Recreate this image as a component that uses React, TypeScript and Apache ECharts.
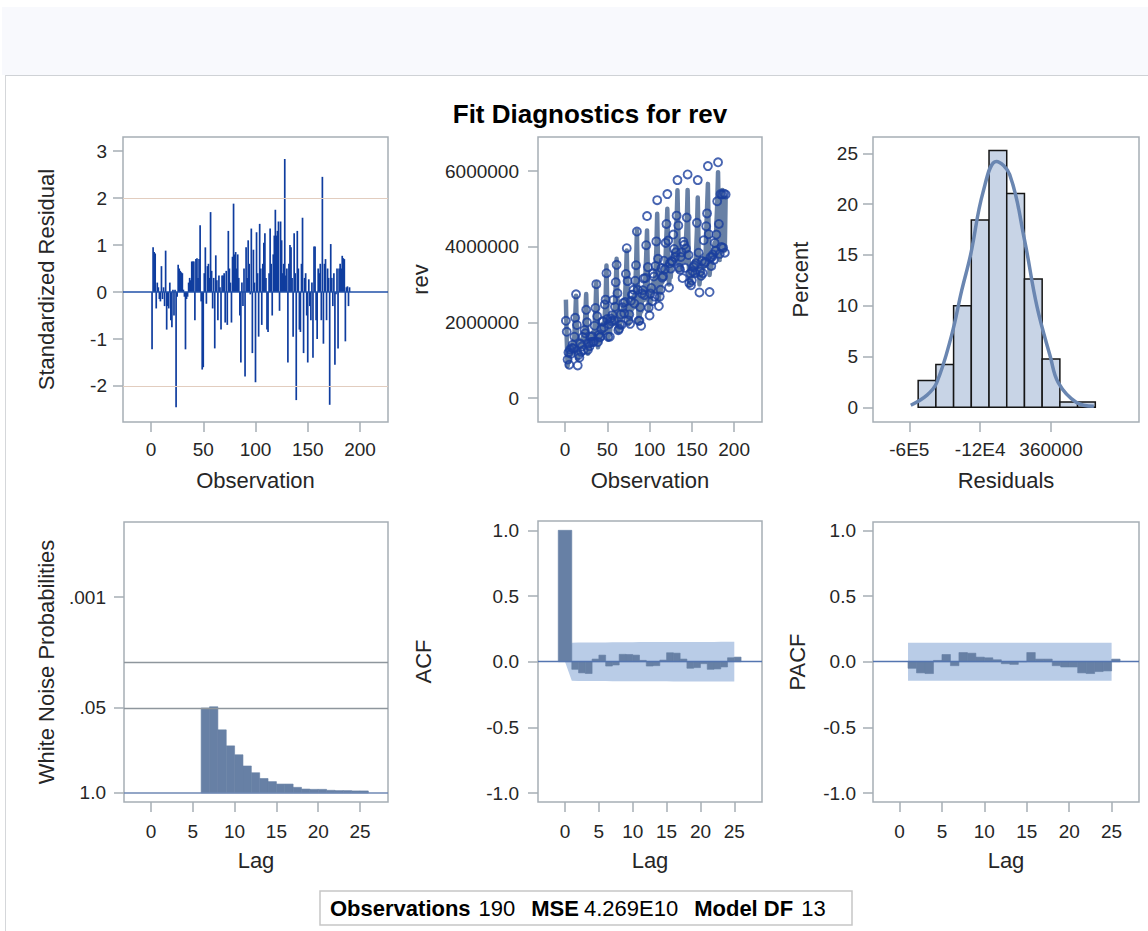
import React, { useEffect, useRef } from "react";
import * as echarts from "echarts";

// ---------------- data ----------------
const observation: number[] = Array.from({ length: 190 }, (_, i) => i + 1);

const stdResidual: number[] = [
  -1.22, 0.95, 0.85, 0.82, -0.35, 0.2, 0.1, -0.15, -0.2, 0.55,
  -0.15, 0.1, -0.3, 0.88, -0.8, -0.3, -0.35, 0.2, -0.6, -0.75,
  0.05, -0.5, 0.05, -2.45, -0.1, 0.58, 0.5, 0.45, 0.42, 0.4,
  0.05, -0.1, -1.22, -0.15, -0.1, 0.2, 0.3, 0.25, 0.65, 0.65,
  0.65, -0.6, 0.7, 0.72, 0.3, 0.7, 1.42, -0.2, -1.65, -1.6,
  0.4, 0.95, -0.25, 0.55, 0.6, 0.3, 1.7, 0.45, -0.35, 0.3,
  -1.2, 0.78, 0.25, -0.6, 0.35, 0.1, -0.8, 0.35, 0.35, 0.4,
  -0.65, 0.45, -0.7, 1.3, 0.5, 0.2, -0.65, 0.75, 1.88, 0.8,
  0.85, 0.5, 0.8, 0.3, -0.5, -1.5, 0.2, -0.3, 0.5, -1.8,
  0.95, 0.3, 1.1, 0.6, -0.05, 1.35, -1.3, 0.9, 0.2, -1.92,
  1.27, 0.4, -0.95, 1.45, 0.5, -0.7, 0.6, 1.05, 1.25, 0.3,
  -0.8, -0.85, 0.4, 1.35, 0.6, -0.5, 0.8, 1.2, 1.75, 1.2,
  1.3, 1.5, -0.4, 1.5, 1.1, 0.4, 0.6, 2.83, 0.35, 0.5,
  -1.5, 0.6, 1.0, 0.95, 0.3, -0.95, 1.25, 0.4, -2.3, 1.3,
  0.5, -0.8, -0.85, 0.6, 1.58, -1.3, 0.3, 0.4, -0.5, -1.5,
  0.27, -0.3, -0.6, 0.2, -1.4, 0.97, 0.97, -0.6, -1.0, 0.5,
  0.4, 0.6, -0.6, 2.45, -1.1, 0.6, 0.7, -0.6, 0.5, 0.3,
  -2.4, 1.02, 0.3, -0.3, 0.4, -1.55, -0.05, 0.5, -1.2, 0.5,
  0.6, 0.5, 0.77, 0.72, 0.7, -1.05, 0.1, 0.12, -0.3, 0.1,
];

// rev, in thousands
const revThousands: number[] = [
  2040, 1750, 1020, 1200, 880, 1280, 1170, 1320, 1410, 1310, 1620, 2120,
  2740, 1930, 860, 1140, 1070, 1440, 1220, 1360, 1610, 1270, 1800, 1710,
  2330, 2000, 1270, 1440, 1370, 1620, 1480, 1630, 1490, 1480, 1910, 2380,
  3010, 2160, 1480, 1670, 1600, 1620, 1820, 2020, 2030, 1870, 2470, 2600,
  3300, 2090, 1620, 1950, 1620, 2100, 2030, 2190, 2590, 2050, 2410, 3060,
  3520, 2770, 1790, 1830, 1940, 2210, 1940, 2400, 2510, 2240, 2540, 3280,
  3960, 3090, 2050, 2210, 1960, 2570, 2730, 2730, 2860, 2500, 3100, 3510,
  4400, 2860, 2040, 2040, 2400, 1910, 2760, 2850, 3160, 2720, 3170, 4040,
  4810, 3460, 2390, 2180, 2760, 2910, 2560, 3290, 3210, 2680, 3490, 4140,
  5230, 3680, 2430, 2680, 2860, 3430, 3180, 3220, 3630, 3400, 4100, 4600,
  5390, 4160, 2920, 3560, 3420, 3620, 3600, 4320, 3940, 3720, 3850, 4820,
  5760, 4560, 3440, 3390, 3730, 3850, 3170, 4130, 4050, 3440, 3950, 4770,
  5910, 3780, 3040, 3290, 2980, 3110, 3350, 3460, 3510, 3300, 3560, 4630,
  5760, 3840, 2790, 3340, 3230, 3620, 3300, 4170, 3560, 3600, 4540, 4880,
  6130, 4330, 2800, 3720, 3490, 3730, 3790, 3650, 4100, 3890, 4320, 5200,
  6230, 4600, 3810, 5390, 3990, 5380, 3970, 5400, 3840, 5380,
];

// predicted rev, in thousands
const predictedThousands: number[] = [
  2600, 1550, 840, 1030, 950, 1240, 1150, 1350, 1450, 1200, 1650, 2100,
  2700, 1750, 1030, 1200, 1140, 1400, 1340, 1510, 1600, 1370, 1790, 2220,
  2750, 1880, 1170, 1350, 1280, 1540, 1470, 1650, 1740, 1510, 1930, 2340,
  3050, 2110, 1340, 1530, 1460, 1740, 1670, 1870, 1970, 1720, 2180, 2640,
  3500, 2420, 1540, 1750, 1670, 1990, 1910, 2130, 2240, 1960, 2480, 3000,
  3680, 2610, 1740, 1950, 1870, 2190, 2110, 2330, 2440, 2160, 2670, 3190,
  3900, 2820, 1950, 2170, 2090, 2410, 2340, 2560, 2680, 2400, 2930, 3450,
  4430, 3170, 2000, 2100, 2300, 2280, 2560, 2790, 2930, 2600, 3180, 3760,
  4430, 3270, 2350, 2580, 2500, 2830, 2760, 2990, 3110, 2820, 3370, 3920,
  4870, 3620, 2600, 2860, 2780, 3150, 3060, 3320, 3460, 3150, 3740, 4350,
  5000, 3850, 3000, 3250, 3190, 3540, 3480, 3730, 3870, 3620, 4160, 4700,
  5490, 4360, 3380, 3590, 3470, 3770, 3650, 3860, 3950, 3610, 4130, 4650,
  5500, 4050, 2980, 3210, 3080, 3420, 3290, 3520, 3630, 3260, 3850, 4430,
  5300, 3960, 3000, 3240, 3150, 3500, 3420, 3660, 3790, 3480, 4400, 5000,
  5660, 4270, 3250, 3510, 3430, 3790, 3710, 3970, 4110, 3790, 4570, 5100,
  5970, 4500, 3650, 5250, 3850, 5500, 3950, 5280, 3900, 5350,
];

const histMidpoint: number[] = [-480000, -360000, -240000, -120000, 0, 120000, 240000, 360000, 480000, 600000];
const histPercent: number[] = [2.63, 4.21, 10.0, 18.42, 25.26, 21.05, 12.63, 4.74, 0.53, 0.53];

const normalResidual: number[] = [-590000, -480000, -415000, -315000, -245000, -185000, -100000, -10000, 80000, 180000, 265000, 355000, 410000, 530000, 650000];
const normalPercent: number[] = [0.2, 1.2, 2.4, 7.0, 11.5, 15.0, 21.2, 24.2, 22.9, 16.5, 9.9, 5.0, 2.4, 0.5, 0.1];

const wnLag: number[] = [6, 7, 8, 9, 10, 11, 12, 13, 14, 15, 16, 17, 18, 19, 20, 21, 22, 23, 24, 25];
const wnProbability: number[] = [0.05, 0.048, 0.108, 0.19, 0.26, 0.386, 0.49, 0.6, 0.67, 0.73, 0.73, 0.82, 0.87, 0.88, 0.88, 0.91, 0.92, 0.92, 0.93, 0.93];

const acfLag: number[] = Array.from({ length: 26 }, (_, i) => i);
const acfValue: number[] = [1.0, -0.058, -0.085, -0.09, 0.02, 0.05, -0.033, -0.025, 0.056, 0.055, 0.05, 0.01, -0.033, -0.03, 0.012, 0.068, 0.065, 0.02, -0.05, -0.045, -0.015, -0.058, -0.055, -0.04, 0.03, 0.035];
const acfBandLimit: number[] = [0, 0.145, 0.146, 0.146, 0.147, 0.147, 0.147, 0.148, 0.148, 0.148, 0.148, 0.149, 0.149, 0.149, 0.149, 0.149, 0.15, 0.15, 0.15, 0.15, 0.15, 0.15, 0.15, 0.151, 0.151, 0.151];

const pacfLag: number[] = Array.from({ length: 25 }, (_, i) => i + 1);
const pacfValue: number[] = [-0.05, -0.085, -0.09, 0.01, 0.055, -0.03, 0.07, 0.065, 0.035, 0.03, 0.015, -0.015, -0.02, 0.0, 0.07, 0.02, 0.02, -0.03, -0.04, -0.04, -0.085, -0.09, -0.075, -0.07, 0.02];
const pacfBandLimit: number[] = [0.145, 0.145, 0.145, 0.145, 0.145, 0.145, 0.145, 0.145, 0.145, 0.145, 0.145, 0.145, 0.145, 0.145, 0.145, 0.145, 0.145, 0.145, 0.145, 0.145, 0.145, 0.145, 0.145, 0.145, 0.145];

const obsTicks = [0, 50, 100, 150, 200];
const stdResTicks = [-2, -1, 0, 1, 2, 3];
const revTicks = [0, 2000000, 4000000, 6000000];
const residTicks = [-600000, -120000, 360000];
const residTickLabels = ["-6E5", "-12E4", "360000"];
const percentTicks = [0, 5, 10, 15, 20, 25];
const lagTicks = [0, 5, 10, 15, 20, 25];
const wnTicks = [0.001, 0.05, 1];
const wnTickLabels = [".001", ".05", "1.0"];
const corrTicks = [-1, -0.5, 0, 0.5, 1];

// ---------------- styling ----------------
const FONT = '"Liberation Sans", Arial, Helvetica, sans-serif';
const TXT = "#262626";
const FRAME = "#a6aeb5";
const BAR = "#6780a5";
const BAND = "#b9cce7";

type AxisCfg = {
  gridIndex: number;
  min: number;
  max: number;
  ticks: number[];
  name: string;
  nameGap: number;
  labelMargin: number;
  formatter?: (v: number) => string;
  type?: string;
  inverse?: boolean;
};

const axis = (o: AxisCfg) => ({
  type: o.type ?? "value",
  gridIndex: o.gridIndex,
  min: o.min,
  max: o.max,
  inverse: o.inverse ?? false,
  logBase: 10,
  name: o.name,
  nameLocation: "middle",
  nameGap: o.nameGap,
  nameTextStyle: { fontSize: 22, color: TXT, fontFamily: FONT },
  axisLine: { show: false, onZero: false },
  axisTick: { show: true, inside: false, length: 10, customValues: o.ticks, lineStyle: { color: FRAME, width: 1.5 } },
  axisLabel: {
    show: true,
    customValues: o.ticks,
    margin: o.labelMargin,
    fontSize: 19,
    color: TXT,
    fontFamily: FONT,
    hideOverlap: false,
    formatter: o.formatter ?? ((v: number) => String(v)),
  },
  splitLine: { show: false },
  splitArea: { show: false },
  minorTick: { show: false },
});

const rect = (a: number[], b: number[], style: any) => ({
  type: "rect",
  shape: {
    x: Math.min(a[0], b[0]),
    y: Math.min(a[1], b[1]),
    width: Math.abs(b[0] - a[0]),
    height: Math.abs(b[1] - a[1]),
  },
  style,
});

const hline = (value: number, color: string, width: number) => ({
  yAxis: value,
  lineStyle: { color, width, type: "solid" },
});

const markLines = (data: any[]) => ({
  silent: true,
  symbol: ["none", "none"],
  label: { show: false },
  animation: false,
  data,
});

function buildOption() {
  const grids = [
    { left: 123, top: 137, width: 265, height: 285 },
    { left: 538, top: 137, width: 224, height: 285 },
    { left: 873, top: 137, width: 266, height: 285 },
    { left: 124, top: 522, width: 264, height: 280 },
    { left: 538, top: 521, width: 224, height: 281 },
    { left: 873, top: 522, width: 266, height: 280 },
  ].map((g) => ({
    ...g,
    show: true,
    borderColor: FRAME,
    borderWidth: 1.5,
    backgroundColor: "rgba(0,0,0,0)",
    containLabel: false,
    outerBoundsMode: "none",
  }));

  const histBinWidth = histMidpoint[1] - histMidpoint[0];
  const corrFmt = (v: number) => v.toFixed(1);

  const xAxis = [
    axis({ gridIndex: 0, min: -26.8, max: 226.8, ticks: obsTicks, name: "Observation", nameGap: 47, labelMargin: 18 }),
    axis({ gridIndex: 1, min: -32, max: 233, ticks: obsTicks, name: "Observation", nameGap: 47, labelMargin: 18 }),
    axis({
      gridIndex: 2, min: -846000, max: 956000, ticks: residTicks, name: "Residuals", nameGap: 47, labelMargin: 18,
      formatter: (v: number) => residTickLabels[residTicks.indexOf(v)] ?? String(v),
    }),
    axis({ gridIndex: 3, min: -3.23, max: 28.35, ticks: lagTicks, name: "Lag", nameGap: 47, labelMargin: 20 }),
    axis({ gridIndex: 4, min: -3.99, max: 29.09, ticks: lagTicks, name: "Lag", nameGap: 47, labelMargin: 20 }),
    axis({ gridIndex: 5, min: -3.13, max: 28.23, ticks: lagTicks, name: "Lag", nameGap: 47, labelMargin: 20 }),
  ];

  const yAxis = [
    axis({ gridIndex: 0, min: -2.766, max: 3.298, ticks: stdResTicks, name: "Standardized Residual", nameGap: 66, labelMargin: 16 }),
    axis({ gridIndex: 1, min: -634000, max: 6899000, ticks: revTicks, name: "rev", nameGap: 107, labelMargin: 19 }),
    axis({ gridIndex: 2, min: -1.45, max: 26.6, ticks: percentTicks, name: "Percent", nameGap: 62, labelMargin: 15 }),
    axis({
      gridIndex: 3, type: "log", inverse: true, min: 0.0000711, max: 1.374, ticks: wnTicks,
      name: "White Noise Probabilities", nameGap: 67, labelMargin: 18,
      formatter: (v: number) => {
        const i = wnTicks.findIndex((t) => Math.abs(t - v) / t < 1e-6);
        return i >= 0 ? wnTickLabels[i] : String(v);
      },
    }),
    axis({ gridIndex: 4, min: -1.068, max: 1.071, ticks: corrTicks, name: "ACF", nameGap: 104, labelMargin: 19, formatter: corrFmt }),
    axis({ gridIndex: 5, min: -1.068, max: 1.064, ticks: corrTicks, name: "PACF", nameGap: 65, labelMargin: 17, formatter: corrFmt }),
  ];

  const series: any[] = [
    // Panel 1: standardized residual needles
    {
      type: "bar",
      xAxisIndex: 0,
      yAxisIndex: 0,
      data: observation.map((o, i) => [o, stdResidual[i]]),
      barWidth: 1.7,
      itemStyle: { color: "#0f3d9f" },
      markLine: markLines([
        hline(2, "#e2cdbf", 1.2),
        hline(-2, "#e2cdbf", 1.2),
        hline(0, "#2150a8", 1.6),
      ]),
    },
    // Panel 2: predicted band + observed rev
    {
      type: "line",
      xAxisIndex: 1,
      yAxisIndex: 1,
      data: observation.map((o, i) => [o, predictedThousands[i] * 1000]),
      showSymbol: false,
      lineStyle: { color: "#6880a5", width: 4.5, join: "round" },
      z: 2,
    },
    {
      type: "scatter",
      xAxisIndex: 1,
      yAxisIndex: 1,
      data: observation.map((o, i) => [o, revThousands[i] * 1000]),
      symbol: "circle",
      symbolSize: 8,
      itemStyle: { color: "rgba(0,0,0,0)", borderColor: "#1a3f9e", borderWidth: 1.9 },
      z: 3,
    },
    // Panel 3: histogram + normal curve
    {
      type: "custom",
      xAxisIndex: 2,
      yAxisIndex: 2,
      data: histMidpoint.map((m, i) => [m, histPercent[i]]),
      encode: { x: 0, y: 1 },
      renderItem: (_p: any, api: any) => {
        const mid = api.value(0);
        const pct = api.value(1);
        const a = api.coord([mid - histBinWidth / 2, pct]);
        const b = api.coord([mid + histBinWidth / 2, 0]);
        return rect(a, b, { fill: "#c8d4e6", stroke: "#151515", lineWidth: 1.5 });
      },
    },
    {
      type: "line",
      xAxisIndex: 2,
      yAxisIndex: 2,
      data: normalResidual.map((x, i) => [x, normalPercent[i]]),
      smooth: 0.4,
      showSymbol: false,
      lineStyle: { color: "#6a86b1", width: 3.5 },
      z: 3,
    },
    // Panel 4: white noise probabilities
    {
      type: "custom",
      xAxisIndex: 3,
      yAxisIndex: 3,
      data: wnLag.map((l, i) => [l, wnProbability[i]]),
      encode: { x: 0, y: 1 },
      renderItem: (_p: any, api: any) => {
        const lag = api.value(0);
        const p = api.value(1);
        const a = api.coord([lag, p]);
        const b = api.coord([lag + 1, 1]);
        return rect(a, b, { fill: BAR, stroke: BAR, lineWidth: 0.6 });
      },
      markLine: markLines([
        hline(0.01, "#8e969d", 1.3),
        hline(0.05, "#8e969d", 1.3),
        hline(1, "#6f89b4", 1.6),
      ]),
    },
    // Panel 5: ACF band + bars
    {
      type: "line",
      xAxisIndex: 4,
      yAxisIndex: 4,
      data: acfLag.map((l, i) => [l, acfBandLimit[i]]),
      showSymbol: false,
      lineStyle: { width: 0, color: BAND },
      areaStyle: { color: BAND, opacity: 1, origin: "auto" },
      z: 1,
    },
    {
      type: "line",
      xAxisIndex: 4,
      yAxisIndex: 4,
      data: acfLag.map((l, i) => [l, -acfBandLimit[i]]),
      showSymbol: false,
      lineStyle: { width: 0, color: BAND },
      areaStyle: { color: BAND, opacity: 1, origin: "auto" },
      z: 1,
    },
    {
      type: "custom",
      xAxisIndex: 4,
      yAxisIndex: 4,
      data: acfLag.map((l, i) => [l, acfValue[i]]),
      encode: { x: 0, y: 1 },
      z: 2,
      renderItem: (_p: any, api: any) => {
        const lag = api.value(0);
        const v = api.value(1);
        const a = api.coord([lag === 0 ? lag - 1 : lag, v]);
        const b = api.coord([lag + 1, 0]);
        return rect(a, b, { fill: BAR, stroke: BAR, lineWidth: 0.6 });
      },
      markLine: markLines([hline(0, "#5475b0", 1.3)]),
    },
    // Panel 6: PACF band + bars
    {
      type: "line",
      xAxisIndex: 5,
      yAxisIndex: 5,
      data: pacfLag.map((l, i) => [l, pacfBandLimit[i]]),
      showSymbol: false,
      lineStyle: { width: 0, color: BAND },
      areaStyle: { color: BAND, opacity: 1, origin: "auto" },
      z: 1,
    },
    {
      type: "line",
      xAxisIndex: 5,
      yAxisIndex: 5,
      data: pacfLag.map((l, i) => [l, -pacfBandLimit[i]]),
      showSymbol: false,
      lineStyle: { width: 0, color: BAND },
      areaStyle: { color: BAND, opacity: 1, origin: "auto" },
      z: 1,
    },
    {
      type: "custom",
      xAxisIndex: 5,
      yAxisIndex: 5,
      data: pacfLag.map((l, i) => [l, pacfValue[i]]),
      encode: { x: 0, y: 1 },
      z: 2,
      renderItem: (_p: any, api: any) => {
        const lag = api.value(0);
        const v = api.value(1);
        const a = api.coord([lag, v]);
        const b = api.coord([lag + 1, 0]);
        return rect(a, b, { fill: BAR, stroke: BAR, lineWidth: 0.6 });
      },
      markLine: markLines([hline(0, "#5475b0", 1.3)]),
    },
  ];

  return {
    animation: false,
    backgroundColor: "rgba(0,0,0,0)",
    textStyle: { fontFamily: FONT },
    title: {
      text: "Fit Diagnostics for rev",
      left: 585,
      top: 96,
      textAlign: "center",
      textStyle: { fontSize: 26, fontWeight: "bold", color: "#000", fontFamily: FONT },
    },
    grid: grids,
    xAxis,
    yAxis,
    series,
    graphic: [
      {
        type: "rect",
        shape: { x: 320, y: 891, width: 532, height: 34 },
        style: { fill: "#fff", stroke: "#c6c6c6", lineWidth: 1.5 },
        silent: true,
      },
      {
        type: "text",
        x: 330,
        y: 908,
        silent: true,
        style: {
          text: "{b|Observations}{s1| }{n|190}{s2| }{b|MSE}{s3| }{n|4.269E10}{s2| }{b|Model DF}{s1| }{n|13}",
          verticalAlign: "middle",
          fill: "#000",
          fontFamily: FONT,
          fontSize: 22,
          rich: {
            b: { fontWeight: "bold", fontSize: 22, fontFamily: FONT, fill: "#000" },
            n: { fontSize: 22, fontFamily: FONT, fill: "#000" },
            s1: { width: 8, fontSize: 22 },
            s2: { width: 16, fontSize: 22 },
            s3: { width: 5, fontSize: 22 },
          },
        },
      },
    ],
  };
}

export default function App() {
  const ref = useRef<HTMLDivElement>(null);
  useEffect(() => {
    if (!ref.current) return;
    const chart = echarts.init(ref.current, null, { renderer: "svg" });
    chart.setOption(buildOption() as any);
    return () => chart.dispose();
  }, []);
  return (
    <div style={{ position: "fixed", left: 0, top: 0, width: 1148, height: 931, background: "#fff", overflow: "hidden" }}>
      <div style={{ position: "absolute", left: 2, top: 7, width: 1146, height: 68, background: "#f8f9fd" }} />
      <div
        style={{
          position: "absolute",
          left: 5,
          top: 75,
          width: 1143,
          height: 856,
          background: "#fff",
          borderTop: "1px solid #cfd2d6",
          borderLeft: "1px solid #d5d7da",
          boxSizing: "border-box",
        }}
      />
      <div ref={ref} style={{ position: "absolute", left: 0, top: 0, width: 1148, height: 931 }} />
    </div>
  );
}
